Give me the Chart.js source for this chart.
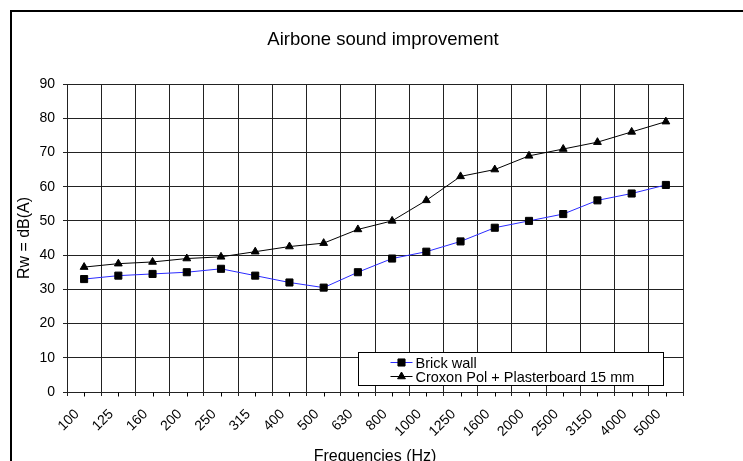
<!DOCTYPE html>
<html>
<head>
<meta charset="utf-8">
<script src="https://cdn.jsdelivr.net/npm/chart.js@4"></script>
<style>
  html, body { margin: 0; padding: 0; background: #fff; overflow: hidden; }
  #wrap { position: relative; width: 743px; height: 470px; }
  #frame { position: absolute; left: 10px; top: 10px; width: 760px; height: 480px;
           border-left: 2px solid #000; border-top: 2px solid #000; pointer-events: none; }
</style>
</head>
<body>
<div id="wrap">
  <canvas id="myChart"></canvas>
  <div id="frame"></div>
</div>
<script>
const frequencies = ['100', '125', '160', '200', '250', '315', '400', '500', '630', '800',
  '1000', '1250', '1600', '2000', '2500', '3150', '4000', '5000'];
const brickWall = [33, 34, 34.5, 35, 36, 34, 32, 30.5, 35, 39, 41, 44, 48, 50, 52, 56, 58, 60.5];
const croxonPol = [36.5, 37.5, 38, 39, 39.5, 41, 42.5, 43.5, 47.5, 50, 56, 63, 65, 69, 71, 73, 76, 79];
const yMin = 0;
const yMax = 90;
const yStep = 10;
const chartTitle = 'Airbone sound improvement';

const fontFamily = "'Liberation Sans', Arial, sans-serif";

// title sits centred on the whole frame, not on the padded box
const frameTitle = {
  id: 'frameTitle',
  afterDraw(chart) {
    const ctx = chart.ctx;
    ctx.save();
    ctx.font = '18.5px ' + fontFamily;
    ctx.fillStyle = '#000';
    ctx.textAlign = 'center';
    ctx.textBaseline = 'middle';
    ctx.fillText(chartTitle, 383, 40);
    ctx.restore();
  }
};

// small ticks under the x axis at every category centre
const centreTicks = {
  id: 'centreTicks',
  afterDraw(chart) {
    const ctx = chart.ctx;
    const x = chart.scales.x;
    const y0 = Math.round(x.top) + 0.5;
    ctx.save();
    ctx.strokeStyle = '#000';
    ctx.lineWidth = 1;
    ctx.beginPath();
    frequencies.forEach((f, i) => {
      const px = Math.round(x.getPixelForValue(i)) + 0.5;
      ctx.moveTo(px, y0);
      ctx.lineTo(px, y0 + 4);
    });
    ctx.stroke();
    ctx.restore();
  }
};

// boxed legend inside the plot area
const boxLegend = {
  id: 'boxLegend',
  afterDraw(chart) {
    const ctx = chart.ctx;
    const area = chart.chartArea;
    const left = Math.round(area.left + 291) + 0.5;
    const right = Math.round(area.right - 20) + 0.5;
    const bottom = Math.round(area.bottom - 7) + 0.5;
    const top = bottom - 33;
    ctx.save();
    ctx.fillStyle = '#fff';
    ctx.fillRect(left, top, right - left, bottom - top);
    ctx.strokeStyle = '#000';
    ctx.lineWidth = 1;
    ctx.strokeRect(left, top, right - left, bottom - top);
    ctx.font = '14.5px ' + fontFamily;
    ctx.textBaseline = 'middle';
    chart.data.datasets.forEach((ds, i) => {
      const ly = top + 10 + i * 14;
      const lx = left + 32;
      ctx.strokeStyle = ds.borderColor;
      ctx.lineWidth = 1;
      ctx.beginPath();
      ctx.moveTo(lx, ly);
      ctx.lineTo(lx + 22, ly);
      ctx.stroke();
      ctx.fillStyle = '#000';
      ctx.strokeStyle = '#000';
      Chart.helpers.drawPoint(ctx, {
        pointStyle: ds.pointStyle,
        radius: ds.pointRadius,
        borderWidth: 1
      }, lx + 11, ly);
      ctx.fillStyle = '#000';
      ctx.fillText(ds.label, lx + 25, ly + 1);
    });
    ctx.restore();
  }
};

const config = {
  type: 'line',
  data: {
    labels: frequencies,
    datasets: [
      {
        label: 'Brick wall',
        data: brickWall,
        borderColor: '#2b2bff',
        borderWidth: 1,
        pointStyle: 'rect',
        pointRadius: 5,
        pointBackgroundColor: '#000',
        pointBorderColor: '#000',
        tension: 0
      },
      {
        label: 'Croxon Pol + Plasterboard 15 mm',
        data: croxonPol,
        borderColor: '#000',
        borderWidth: 1,
        pointStyle: 'triangle',
        pointRadius: 4.5,
        pointBackgroundColor: '#000',
        pointBorderColor: '#000',
        tension: 0
      }
    ]
  },
  options: {
    responsive: true,
    maintainAspectRatio: false,
    animation: false,
    layout: { padding: { left: 10, right: 60, top: 84, bottom: 0 } },
    plugins: {
      legend: { display: false },
      tooltip: { enabled: false },
      title: { display: false }
    },
    scales: {
      x: {
        offset: true,
        grid: { color: '#222', lineWidth: 1, offset: true, tickLength: 4, drawTicks: true },
        border: { color: '#222', width: 1 },
        ticks: {
          color: '#000',
          font: { family: fontFamily, size: 14 },
          minRotation: 45,
          maxRotation: 45,
          padding: 10,
          labelOffset: -7,
          autoSkip: false
        },
        title: {
          display: true,
          text: 'Frequencies (Hz)',
          color: '#000',
          font: { family: fontFamily, size: 16 },
          padding: { top: 0, bottom: 4 }
        },
        afterFit(scale) { scale.height = 78; }
      },
      y: {
        min: yMin,
        max: yMax,
        grid: { color: '#222', lineWidth: 1, tickLength: 4 },
        border: { color: '#222', width: 1 },
        ticks: {
          stepSize: yStep,
          color: '#000',
          font: { family: fontFamily, size: 14 },
          padding: 8
        },
        title: {
          display: true,
          text: 'Rw = dB(A)',
          color: '#000',
          font: { family: fontFamily, size: 16 },
          padding: { top: 5, bottom: 0 }
        },
        afterFit(scale) { scale.width = 57; }
      }
    }
  },
  plugins: [frameTitle, centreTicks, boxLegend]
};

const ctx = document.getElementById('myChart').getContext('2d');
const myChart = new Chart(ctx, config);
</script>
</body>
</html>
